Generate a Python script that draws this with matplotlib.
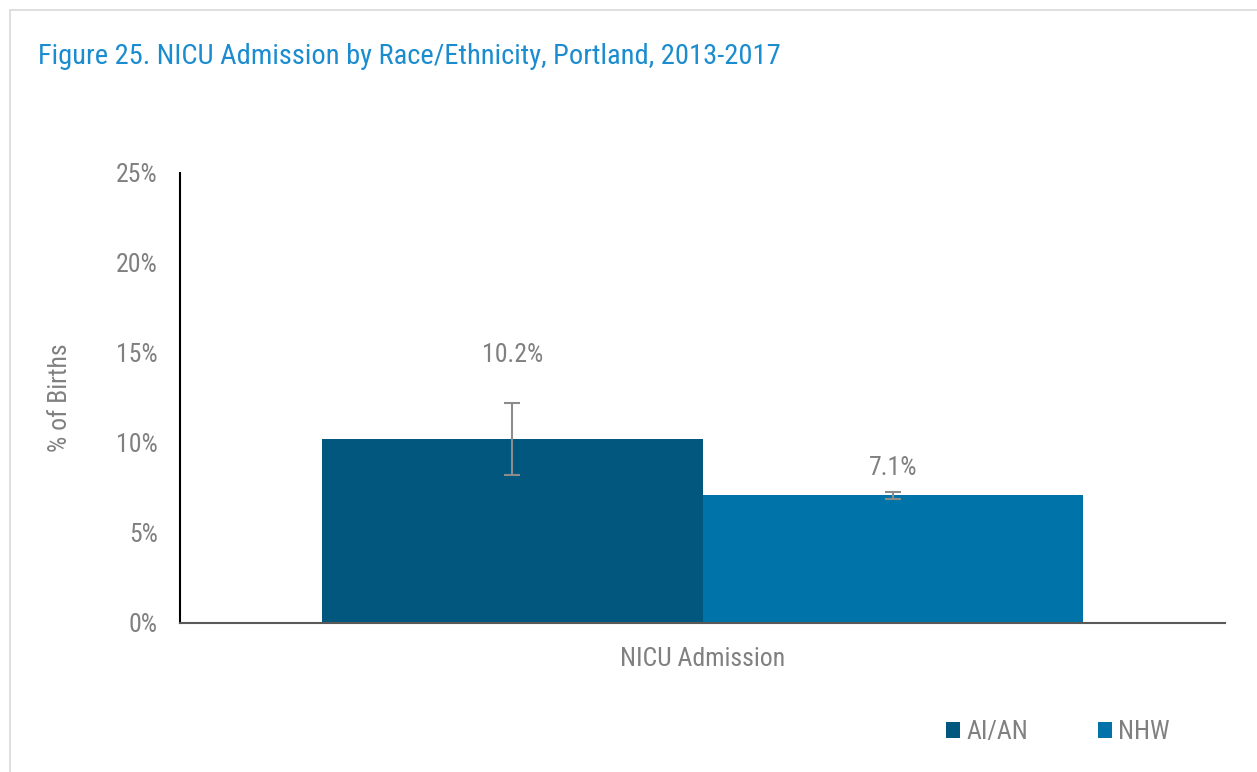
import matplotlib
matplotlib.use("Agg")
import matplotlib.pyplot as plt
from matplotlib import font_manager
from matplotlib.patches import Rectangle

categories = ["NICU Admission"]
series = ["AI/AN", "NHW"]
values = [10.2, 7.1]
err_low = [8.2, 6.9]
err_high = [12.2, 7.3]
labels = ["10.2%", "7.1%"]
colors = ["#02577E", "#0073A8"]
yticks = [0, 5, 10, 15, 20, 25]

names = {f.name for f in font_manager.fontManager.ttflist}
fam = ["Liberation Sans Narrow"] if "Liberation Sans Narrow" in names else ["Roboto Condensed"] if "Roboto Condensed" in names else ["Liberation Sans"]
plt.rcParams["font.family"] = fam + ["DejaVu Sans"]

W, H = 1257, 772
fig = plt.figure(figsize=(W / 100, H / 100), dpi=100)
gray = "#808080"
fs = 18.5

# outer frame
fig.patches.append(Rectangle((10 / W, -0.05), 1.1, (H - 10) / H + 0.05, transform=fig.transFigure,
                             fill=False, edgecolor="#D9D9D9", linewidth=1.2))

ax = fig.add_axes([180 / W, 1 - 623 / H, (1225 - 180) / W, (623 - 173) / H])
width = 0.364
offsets = [-width / 2, width / 2]
for i, s in enumerate(series):
    x = offsets[i]
    ax.bar(x, values[i], width=width, color=colors[i], label=s, zorder=2)
    ax.errorbar(x, values[i], yerr=[[values[i] - err_low[i]], [err_high[i] - values[i]]],
                fmt="none", ecolor="#8C8C8C", elinewidth=1.5, capsize=6, capthick=1.5, zorder=3)
label_y = [14.9, 8.6]
for i in range(len(series)):
    ax.text(offsets[i], label_y[i], labels[i], ha="center", va="center", fontsize=fs, color=gray)

ax.set_xlim(-0.5, 0.5)
ax.set_ylim(0, 25)
ax.set_yticks(yticks)
ax.set_yticklabels([f"{t}%" for t in yticks], fontsize=fs, color=gray)
ax.set_xticks([0])
ax.set_xticklabels(categories, fontsize=fs, color=gray)
ax.tick_params(axis="y", length=0, pad=16)
ax.tick_params(axis="x", length=0, pad=17)
for sp in ["top", "right"]:
    ax.spines[sp].set_visible(False)
ax.spines["left"].set_color("black")
ax.spines["left"].set_linewidth(1.5)
ax.spines["bottom"].set_color("#595959")
ax.spines["bottom"].set_linewidth(1.5)
ax.set_ylabel("% of Births", fontsize=fs, color=gray, labelpad=32)

fig.text(38 / W, 1 - 56 / H, "Figure 25. NICU Admission by Race/Ethnicity, Portland, 2013-2017",
         fontsize=20.5, color="#1A8CCF", ha="left", va="center")

leg = fig.legend(loc="center", bbox_to_anchor=(1058 / W, 1 - 732 / H), ncol=2, frameon=False,
                 fontsize=fs, handlelength=0.55, handleheight=0.55, columnspacing=2.7, handletextpad=0.25)
for t in leg.get_texts():
    t.set_color(gray)

fig.savefig("out.png", dpi=100)
